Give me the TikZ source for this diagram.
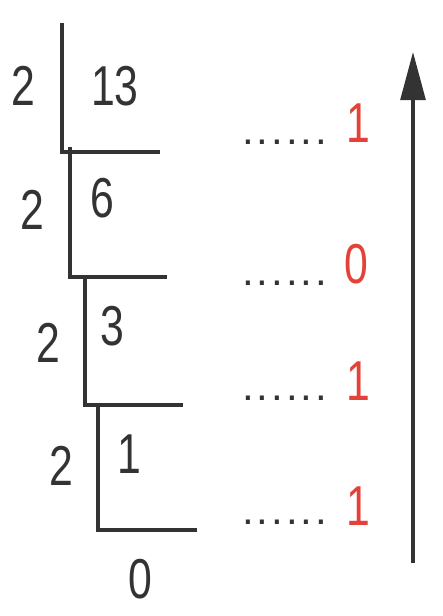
\documentclass[tikz,border=0pt]{standalone}
\usepackage{fontspec}
\setmainfont{Liberation Sans}[FakeStretch=0.76]
\newfontfamily\dotfont{Liberation Sans}[LetterSpace=7]
\usepackage{xcolor}
\usetikzlibrary{arrows.meta}
\definecolor{ink}{RGB}{51,51,51}
\definecolor{remred}{RGB}{228,66,56}

\begin{document}
\begin{tikzpicture}[x=0.025cm,y=-0.025cm,
	num/.style={inner sep=0pt,anchor=base,text=ink,font=\fontsize{40}{48}\selectfont},
	rem/.style={num,text=remred},
	dots/.style={num,anchor=base west,font=\dotfont\fontsize{30}{36}\selectfont},
	bar/.style={draw=ink,line width=2.4pt}]
	
	\useasboundingbox (0,0) rectangle (442,616);
	
	% divisors and quotients
	\node[num] (d1) at (23,106) {2};
	\node[num] (q1) at (115,106) {13};
	\node[num] (d2) at (32,230) {2};
	\node[num] (q2) at (102,218) {6};
	\node[num] (d3) at (48,362) {2};
	\node[num] (q3) at (112,345) {3};
	\node[num] (d4) at (61,485) {2};
	\node[num] (q4) at (129,473) {1};
	\node[num] (q5) at (140,598) {0};
	
	% division bars
	\coordinate (t1) at (62,23);  \coordinate (e1) at (160,152);
	\coordinate (t2) at (70,147); \coordinate (e2) at (167,277);
	\coordinate (t3) at (85,277); \coordinate (e3) at (183,405);
	\coordinate (t4) at (98,405); \coordinate (e4) at (197,530);
	\draw[bar] (t1) |- (e1);
	\draw[bar] (t2) |- (e2);
	\draw[bar] (t3) |- (e3);
	\draw[bar] (t4) |- (e4);
	
	% remainders
	\node[dots] (p1) at (242,145) {......};
	\node[dots] (p2) at (242,285) {......};
	\node[dots] (p3) at (242,400) {......};
	\node[dots] (p4) at (242,524) {......};
	\node[rem] (r1) at (358,143) {1};
	\node[rem] (r2) at (356,283) {0};
	\node[rem] (r3) at (358,400) {1};
	\node[rem] (r4) at (358,525) {1};
	
	\coordinate (a0) at (413,563);
	\coordinate (a1) at (413,52);
	\draw[bar,-{Triangle[length=1.2cm,width=0.62cm]}] (a0) -- (a1);
	
\end{tikzpicture}
\end{document}
